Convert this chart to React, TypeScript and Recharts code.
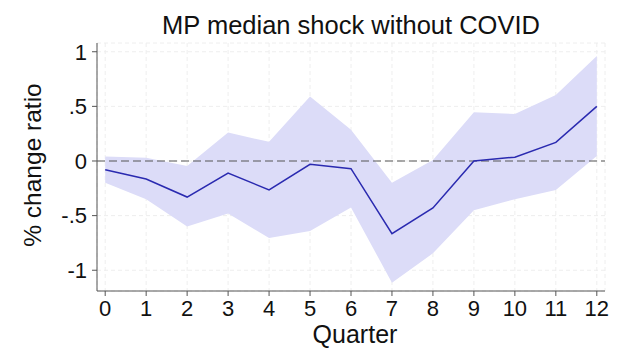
import * as React from 'react';
import { ComposedChart, Area, Line, XAxis, YAxis, CartesianGrid, ReferenceLine } from 'recharts';

const quarters = [0, 1, 2, 3, 4, 5, 6, 7, 8, 9, 10, 11, 12];
const median = [-0.08, -0.165, -0.33, -0.11, -0.265, -0.03, -0.07, -0.665, -0.43, 0, 0.035, 0.17, 0.5];
const upper = [0.04, 0.03, -0.045, 0.26, 0.175, 0.59, 0.285, -0.2, 0.01, 0.445, 0.43, 0.605, 0.96];
const lower = [-0.2, -0.35, -0.6, -0.48, -0.705, -0.64, -0.425, -1.115, -0.845, -0.45, -0.35, -0.265, 0.045];

const yTicks = [-1, -0.5, 0, 0.5, 1];
const yTickLabels = ['-1', '-.5', '0', '.5', '1'];

const FONT = '"Liberation Sans", Arial, sans-serif';
const W = 619;
const H = 349;

const data = quarters.map((q, i) => ({
  q,
  median: median[i],
  band: [lower[i], upper[i]],
}));

const fmtY = (v: number) => {
  const i = yTicks.indexOf(v);
  return i >= 0 ? yTickLabels[i] : String(v);
};

export default function App() {
  return (
    <div style={{ position: 'absolute', left: 0, top: 0, width: W, height: H, background: '#fff' }}>
      <ComposedChart
        width={W}
        height={H}
        data={data}
        margin={{ top: 43, right: 14, bottom: 0, left: 0 }}
        style={{ fontFamily: FONT }}
      >
        <CartesianGrid stroke="#eeeeee" strokeDasharray="4 3" />
        <XAxis
          dataKey="q"
          type="number"
          domain={[-0.2, 12.2]}
          ticks={quarters}
          allowDataOverflow
          height={58}
          stroke="#555"
          tickSize={5}
          tickMargin={4}
          tick={{ fill: '#111', fontSize: 22 }}
        />
        <YAxis
          type="number"
          domain={[-1.19, 1.08]}
          ticks={yTicks}
          allowDataOverflow
          width={97}
          stroke="#555"
          tickSize={5}
          tickMargin={5}
          tickFormatter={fmtY}
          tick={{ fill: '#111', fontSize: 22 }}
        />
        <Area
          dataKey="band"
          type="linear"
          stroke="none"
          fill="#dcdcf8"
          fillOpacity={1}
          isAnimationActive={false}
        />
        <ReferenceLine y={0} stroke="#555" strokeWidth={1.2} strokeDasharray="8 4" />
        <Line
          dataKey="median"
          type="linear"
          stroke="#2a2ab0"
          strokeWidth={1.5}
          dot={false}
          isAnimationActive={false}
        />
      </ComposedChart>
      <svg
        width={W}
        height={H}
        style={{ position: 'absolute', left: 0, top: 0, pointerEvents: 'none', fontFamily: FONT }}
      >
        <text x={351} y={34} textAnchor="middle" fontSize={25.5} fill="#111">
          MP median shock without COVID
        </text>
        <text x={355} y={343} textAnchor="middle" fontSize={25} fill="#111">
          Quarter
        </text>
        <text
          x={41}
          y={165}
          textAnchor="middle"
          fontSize={24.5}
          fill="#111"
          transform="rotate(-90, 41, 165)"
        >
          % change ratio
        </text>
      </svg>
    </div>
  );
}
